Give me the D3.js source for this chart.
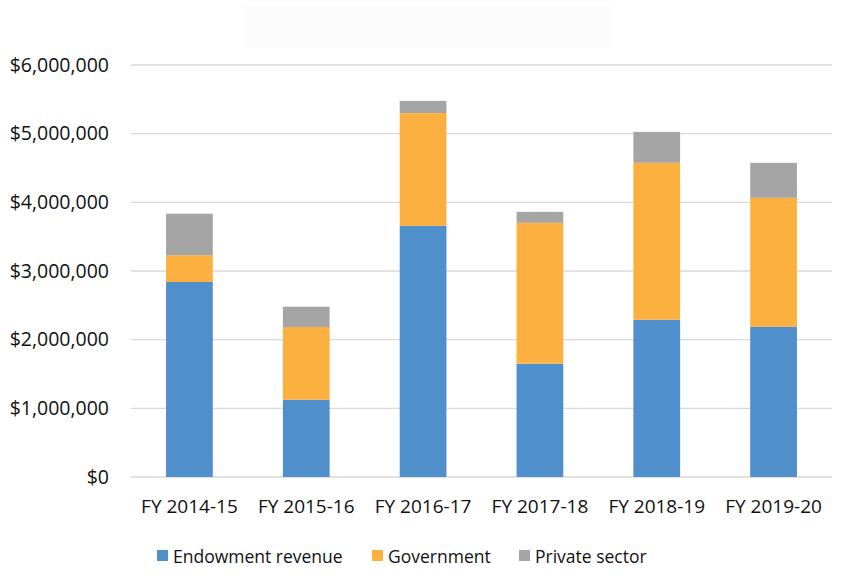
<!DOCTYPE html>
<html>
<head>
<meta charset="utf-8">
<script src="https://cdn.jsdelivr.net/npm/d3@7"></script>
<style>
  body { margin: 0; background: #fff; }
  svg text { font-family: "Open Sans", "Liberation Sans", sans-serif; fill: #111; }
</style>
</head>
<body>
<div id="chart"></div>
<script>
const years = ['FY 2014-15', 'FY 2015-16', 'FY 2016-17', 'FY 2017-18', 'FY 2018-19', 'FY 2019-20'];
const endowment = [2840000, 1125000, 3658000, 1650000, 2290000, 2188000];
const government = [390000, 1060000, 1642000, 2052000, 2285000, 1878000];
const privateSector = [605000, 295000, 177000, 160000, 451000, 509000];
const seriesNames = ['Endowment revenue', 'Government', 'Private sector'];
const yTicks = [0, 1000000, 2000000, 3000000, 4000000, 5000000, 6000000];

const colors = ['#4e8fcc', '#fcb040', '#a5a5a5'];

const width = 848, height = 583;
const margin = { top: 65, right: 16, bottom: 106, left: 131 };

const svg = d3.select('#chart').append('svg')
    .attr('width', width)
    .attr('height', height);

svg.append('rect')
    .attr('width', width)
    .attr('height', height)
    .attr('fill', '#fff');

// faint title box
svg.append('rect')
    .attr('x', 243).attr('y', 6)
    .attr('width', 368).attr('height', 42)
    .attr('fill', '#fcfcfc');

const x = d3.scaleBand()
    .domain(years)
    .range([margin.left, width - margin.right])
    .paddingInner(0.6)
    .paddingOuter(0.3);

const y = d3.scaleLinear()
    .domain([0, 6000000])
    .range([height - margin.bottom, margin.top]);

// table for stack
const table = years.map((yr, i) => ({
    year: yr,
    'Endowment revenue': endowment[i],
    'Government': government[i],
    'Private sector': privateSector[i]
}));
const stacked = d3.stack().keys(seriesNames)(table);

// gridlines
svg.append('g')
    .selectAll('line')
    .data(yTicks)
    .enter()
    .append('line')
    .attr('x1', margin.left)
    .attr('x2', width - margin.right)
    .attr('y1', d => y(d))
    .attr('y2', d => y(d))
    .attr('stroke', '#d9d9d9')
    .attr('stroke-width', 1.4);

// y labels
const fmt = d3.format('$,.0f');
svg.append('g')
    .selectAll('text')
    .data(yTicks)
    .enter()
    .append('text')
    .attr('x', 109)
    .attr('y', d => y(d))
    .attr('dy', '0.35em')
    .attr('text-anchor', 'end')
    .attr('font-size', 19.5)
    .text(d => fmt(d));

// bars
svg.append('g')
    .selectAll('g')
    .data(stacked)
    .enter()
    .append('g')
    .attr('fill', (d, i) => colors[i])
    .selectAll('rect')
    .data(d => d)
    .enter()
    .append('rect')
    .attr('x', d => x(d.data.year))
    .attr('width', x.bandwidth())
    .attr('y', d => y(d[1]))
    .attr('height', d => y(d[0]) - y(d[1]));

// x labels
svg.append('g')
    .selectAll('text')
    .data(years)
    .enter()
    .append('text')
    .attr('x', d => x(d) + x.bandwidth() / 2)
    .attr('y', 513)
    .attr('text-anchor', 'middle')
    .attr('font-size', 19)
    .text(d => d);

// legend
const legendX = [157, 372, 519];
const legend = svg.append('g')
    .selectAll('g')
    .data(seriesNames)
    .enter()
    .append('g')
    .attr('transform', (d, i) => 'translate(' + legendX[i] + ',550)');

legend.append('rect')
    .attr('width', 11)
    .attr('height', 11)
    .attr('fill', (d, i) => colors[i]);

legend.append('text')
    .attr('x', 16)
    .attr('y', 12.5)
    .attr('font-size', 17.5)
    .text(d => d);
</script>
</body>
</html>
